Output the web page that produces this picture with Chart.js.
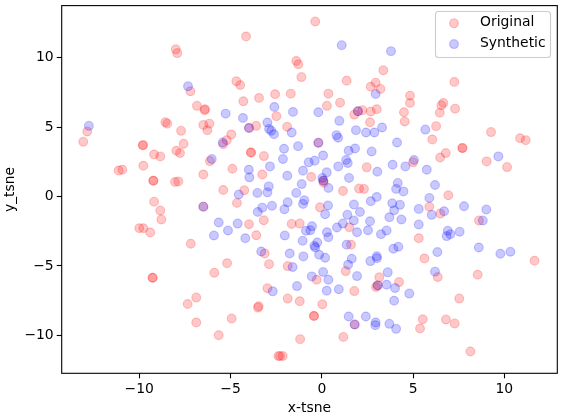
<!DOCTYPE html>
<html>
<head>
<meta charset="utf-8">
<style>
  html, body { margin: 0; padding: 0; background: #fff; }
  #wrap { position: relative; width: 564px; height: 417px; }
</style>
<script src="https://cdn.jsdelivr.net/npm/chart.js@4"></script>
</head>
<body>
<div id="wrap"><canvas id="chart" width="564" height="417"></canvas></div>
<script>
const originalX = [
  -8.0, -7.92, -7.2, -6.84, -8.57, -8.47, -7.71, -12.85, -13.07, -9.8,
  -9.8, -9.19, -8.85, -7.57, -7.97, -7.77, -9.78, -11.13, -10.93, -9.23,
  -9.23, -8.04, -7.86, -9.19, -8.85, -8.79, -10.0, -9.78, -9.4, -7.18,
  -9.27, -9.27, -7.35, -6.88, -6.88,
  -0.36, -4.15, -1.4, -1.29, -1.12, -4.68, -4.47, -2.56, -1.7, -3.44,
  -4.3, 0.36, 0.28, -6.4, -6.42, -2.49, -6.49, -6.16, -3.6, -1.9,
  -6.27, -3.99, -4.96, -5.21, -5.4, -3.88, -3.88, -3.17, -6.13, -4.9,
  -6.49, -3.26, -5.4, -4.25, -4.65, -0.58, -0.1, -3.99, -3.18, -1.65,
  -1.21, -3.59, -3.13, -0.19, 0.08, 0.1, -6.49,
  3.37, 1.36, 2.95, 2.68, 3.21, 1.0, 7.26, 4.83, 4.83,
  3.01, 2.68, 2.22, 1.98, 1.78, 4.5, 4.54, 2.64, 6.26, 6.46,
  6.55, 6.66, 7.3, 9.27, 6.05, 6.79, 6.48, 7.7, 7.7, 5.0,
  2.46, 1.16, 2.04, 2.31, 6.93, 5.89, 6.49, 1.51, 5.31, 1.6,
  10.86, 11.17, 9.03, 10.15, 8.61, 11.65, 8.54, 6.35, 7.53, 6.8,
  7.28, 8.14, -5.19, -5.89, -2.89, -1.87, -0.28, -2.98, -1.87, -1.21,
  0.03, -3.46, -3.5, -0.43, -0.43, -4.94, -5.65, -1.19, -2.38, -2.29,
  -2.14, 5.62, 1.31, 3.15, 2.97, 3.06, 4.23, 1.78, 5.53, 5.38,
  1.18, 1.8
];
const originalY = [
  10.6, 10.33, 7.58, 6.53, 5.35, 5.25, 4.73, 4.68, 3.94, 3.7,
  3.7, 3.03, 2.89, 3.8, 3.3, 3.13, 2.22, 1.88, 1.93, 1.14,
  1.14, 1.05, 1.09, -0.37, -1.01, -1.66, -2.28, -2.28, -2.59, -3.4,
  -5.85, -5.85, -7.74, -7.28, -9.07,
  12.6, 11.53, 9.76, 9.52, 8.6, 8.3, 8.03, 7.37, 7.41, 7.1,
  6.86, 7.41, 6.53, 6.29, 6.22, 5.79, 5.16, 5.25, 5.09, 5.02,
  4.78, 4.94, 4.47, 4.06, 3.77, 3.17, 3.17, 2.91, 2.55, 2.0,
  1.59, 1.59, 0.47, 0.45, -0.46, 1.41, -0.78, -2.0, -1.71, -1.97,
  -1.95, -2.79, -4.1, 3.87, 1.14, 1.0, -0.73,
  9.09, 8.34, 8.2, 7.91, 7.75, 6.76, 8.25, 7.26, 6.74,
  6.29, 6.12, 6.22, 6.14, 5.9, 6.07, 5.4, 5.35, 5.07, 6.04,
  6.57, 6.74, 6.33, 4.64, 4.11, 3.13, 2.81, 3.49, 3.49, 2.46,
  2.1, 0.4, 0.57, 0.55, 0.09, -0.73, -1.23, -2.21, -3.0, -3.47,
  4.2, 4.06, 2.53, 2.12, -1.73, -4.62, -5.63, -5.8, -7.35, -8.86,
  -9.15, -11.16, -4.8, -5.49, -4.87, -5.01, -5.99, -6.61, -7.35, -7.54,
  -7.76, -7.9, -8.0, -8.6, -8.6, -8.79, -9.99, -10.27, -11.49, -11.49,
  -11.49, -4.46, -5.37, -5.82, -6.52, -6.4, -6.16, -6.81, -8.84, -9.5,
  -10.11, -9.22
];
const syntheticX = [
  -7.33, -12.76, -5.27, -4.32, -2.6, -1.58, -0.19, -2.98, -3.99, -2.77,
  -1.65, -2.89, -2.62, -1.3, -2.07, -2.13, -2.84, -4.0, -3.97, -1.89,
  -0.72, -0.39, 0.07, -1.03, 0.27, 0.03, -1.1, -2.91, -2.98, -3.53,
  -4.55, -1.4, -0.96, -1.03, -1.87, -2.05, -2.73, -3.26, -3.51, 0.34,
  0.18, -5.65, -4.61, -5.14, -5.91, -4.19, -2.03, -0.54, -0.87, -0.63,
  -1.05, 0.28, 0.36, -0.25, -0.41, -0.36, -3.32, -1.76, -1.01, -0.15,
  -0.19, -5.43, -6.03, 0.08, -6.49,
  1.09, 3.79, 2.95, 0.96, 1.98, 1.87, 2.42, 2.88, 3.3, 5.67,
  0.8, 0.89, 4.12, 1.82, 1.47, 2.73, 1.33, 1.42, 0.9, 1.49,
  0.36, 3.04, 3.88, 4.58, 5.05, 5.75, 6.2, 4.16, 4.07, 4.47,
  3.01, 2.68, 3.86, 4.28, 3.96, 1.76, 2.09, 1.4, 1.75, 1.15,
  0.83, 2.64, 3.7, 4.36, 5.31, 5.89, 6.02, 6.7, 5.31, 1.93,
  2.53, 3.24, 3.55, 1.36, 4.19, 3.92, 6.9, 6.84, 7.04, 7.55,
  6.33, 7.79, 3.01,
  9.67, 9.01, 8.82, 8.6, 9.78, 10.33, 6.2, 0.18, -1.6, -0.55,
  0.07, 0.36, -1.36, 0.27, -2.69, 1.64, 1.44, 2.66, 3.02, 3.61,
  1.93, 3.55, 3.06, 4.01, 4.79, 3.96, 0.93, 1.47, 2.41, 2.95,
  2.93, 3.7, 4.07, 1.8
];
const syntheticY = [
  7.94, 5.09, 5.97, 5.66, 6.45, 6.09, 6.07, 5.33, 4.94, 4.73,
  4.61, 4.87, 4.49, 3.63, 3.44, 2.7, 2.17, 1.93, 1.38, 1.5,
  2.46, 2.58, 2.96, 1.86, 1.74, 1.34, 0.9, 0.73, 0.3, 0.26,
  0.14, 0.26, -0.27, -0.53, -0.42, -0.92, -0.67, -0.8, -1.11, -0.65,
  -1.28, -1.87, -1.95, -2.45, -2.81, -3.0, -2.81, -2.14, -2.47, -2.43,
  -3.19, -2.57, -2.93, -3.31, -3.55, -3.67, -3.96, -4.1, -4.31, -4.19,
  3.87, 3.89, 2.7, 1.14, -0.73,
  10.9, 10.47, 7.39, 5.45, 6.14, 4.78, 4.61, 4.61, 4.97, 4.82,
  4.42, 4.23, 3.89, 3.46, 3.3, 3.24, 2.63, 2.41, 2.17, 1.34,
  0.62, 1.79, 2.29, 2.17, 2.63, 1.93, 0.83, 0.98, 0.55, 0.37,
  -0.03, -0.34, -0.49, -0.6, -0.99, -0.58, -1.11, -1.32, -1.73, -1.95,
  -2.23, -1.78, -1.49, -1.66, -0.89, -0.1, -1.32, -1.06, -2.02, -2.57,
  -2.43, -2.71, -2.45, -3.47, -3.62, -3.76, -2.47, -2.85, -2.71, -2.54,
  -4.0, -0.7, -4.3,
  2.89, -0.94, -1.73, -3.67, -4.12, -3.98, -5.41, -4.41, -5.08, -5.75,
  -5.44, -5.99, -6.45, -6.78, -6.83, -4.48, -4.91, -4.65, -4.44, -5.46,
  -5.73, -6.35, -6.4, -6.59, -6.99, -7.5, -6.68, -8.64, -8.64, -9.07,
  -9.27, -9.17, -9.53, -9.22
];
const seriesNames = ['Original', 'Synthetic'];
const xLabel = 'x-tsne';
const yLabel = 'y_tsne';

const FONT = '"DejaVu Sans", sans-serif';
const RED = 'rgba(255, 0, 0, 0.21)';
const BLUE = 'rgba(0, 0, 255, 0.21)';
const POINT_RADIUS = 4.4;
const POINT_EDGE = 1.2;

function toPoints(xs, ys) {
  return xs.map((x, i) => ({ x: x, y: ys[i] }));
}

// matplotlib-style tick label, with a real minus sign
function tickText(value) {
  return String(value).replace('-', '\u2212');
}

// top and right spines plus the boxed legend in the upper right
const framePlugin = {
  id: 'frame',
  afterDatasetsDraw(chart) {
    const ctx = chart.ctx;
    const area = chart.chartArea;
    ctx.save();
    ctx.strokeStyle = '#000';
    ctx.lineWidth = 1.1;
    ctx.strokeRect(area.left, area.top, area.right - area.left, area.bottom - area.top);

    ctx.beginPath();
    ctx.roundRect(435.5, 11.5, 115, 46, 3);
    ctx.fillStyle = 'rgba(255, 255, 255, 0.8)';
    ctx.fill();
    ctx.strokeStyle = '#cccccc';
    ctx.lineWidth = 1.1;
    ctx.stroke();

    ctx.font = '13.9px ' + FONT;
    ctx.textBaseline = 'middle';
    seriesNames.forEach((name, i) => {
      const y = 23.3 + i * 20.8;
      ctx.beginPath();
      ctx.arc(454, y, POINT_RADIUS, 0, Math.PI * 2);
      ctx.fillStyle = i === 0 ? RED : BLUE;
      ctx.strokeStyle = i === 0 ? RED : BLUE;
      ctx.lineWidth = POINT_EDGE;
      ctx.fill();
      ctx.stroke();
      ctx.fillStyle = '#000';
      ctx.fillText(name, 480, y - 1);
    });
    ctx.restore();
  }
};

function axisOptions(min, max, label) {
  return {
    type: 'linear',
    min: min,
    max: max,
    ticks: {
      stepSize: 5,
      includeBounds: false,
      color: '#000',
      font: { family: FONT, size: 13.9 },
      padding: 3,
      maxRotation: 0,
      autoSkip: false,
      callback: tickText
    },
    grid: {
      drawOnChartArea: false,
      drawTicks: true,
      tickLength: 5,
      tickWidth: 1.1,
      tickColor: '#000'
    },
    border: { display: false },
    title: {
      display: true,
      text: label,
      color: '#000',
      font: { family: FONT, size: 13.9 },
      padding: { top: 0, bottom: 0 }
    }
  };
}

// keep the plot box fixed, label overhang must not push it inwards
function noOverhang(scale) {
  scale.paddingLeft = 0;
  scale.paddingRight = 0;
  scale.paddingTop = 0;
  scale.paddingBottom = 0;
}

const xAxis = axisOptions(-14.25, 12.9, xLabel);
xAxis.afterFit = scale => { scale.height = 43.7; noOverhang(scale); };
const yAxis = axisOptions(-12.73, 13.75, yLabel);
yAxis.title.padding = { top: 2, bottom: 0 };
yAxis.afterFit = scale => { scale.width = 61.7; noOverhang(scale); };

new Chart(document.getElementById('chart').getContext('2d'), {
  type: 'scatter',
  data: {
    datasets: [{
      label: seriesNames[0],
      data: toPoints(originalX, originalY),
      backgroundColor: RED,
      borderColor: RED,
      borderWidth: POINT_EDGE,
      pointRadius: POINT_RADIUS,
      order: 2
    }, {
      label: seriesNames[1],
      data: toPoints(syntheticX, syntheticY),
      backgroundColor: BLUE,
      borderColor: BLUE,
      borderWidth: POINT_EDGE,
      pointRadius: POINT_RADIUS,
      order: 1
    }]
  },
  options: {
    responsive: false,
    animation: false,
    layout: { padding: { left: 0, right: 6.7, top: 4.3, bottom: 0 } },
    plugins: {
      legend: { display: false },
      tooltip: { enabled: false }
    },
    scales: { x: xAxis, y: yAxis }
  },
  plugins: [framePlugin]
});
</script>
</body>
</html>
